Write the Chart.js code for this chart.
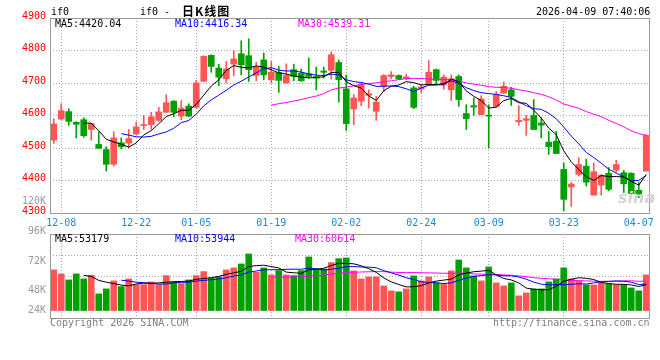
<!DOCTYPE html>
<html>
<head>
<meta charset="utf-8">
<script src="https://cdn.jsdelivr.net/npm/chart.js@4/dist/chart.umd.min.js"></script>
<style>
body { margin: 0; background: #fff; }
#wrap { position: relative; width: 660px; height: 360px; overflow: hidden; font-family: "DejaVu Sans Mono", monospace; font-size: 10px; }
#wrap canvas { position: absolute; left: 0; }
.t { position: absolute; white-space: pre; line-height: 10px; }
.vl { position: absolute; left: 0; width: 46px; text-align: right; color: #999; line-height: 10px; }
</style>
</head>
<body>
<div id="wrap">
  <canvas id="priceChart" width="660" height="230" style="top:0"></canvas>
  <canvas id="volChart" width="660" height="130" style="top:230px"></canvas>

  <div class="t" style="left:51px;top:7px">if0</div>
  <div class="t" style="left:140px;top:7px">if0 -</div>
  <div class="t" style="left:182px;top:5px;font:bold 12px 'Noto Sans CJK SC';line-height:12px;letter-spacing:1px">日K线图</div>
  <div class="t" style="left:536px;top:7px">2026-04-09 07:40:06</div>

  <div class="t" style="left:55px;top:19px;color:#000">MA5:4420.04</div>
  <div class="t" style="left:175px;top:19px;color:#0000ff">MA10:4416.34</div>
  <div class="t" style="left:298px;top:19px;color:#ff00ff">MA30:4539.31</div>

  <div class="t" style="left:55px;top:234px;color:#000">MA5:53179</div>
  <div class="t" style="left:175px;top:234px;color:#0000ff">MA10:53944</div>
  <div class="t" style="left:295px;top:234px;color:#ff00ff">MA30:60614</div>

  <div class="vl" style="top:196px">120K</div>
  <div class="vl" style="top:226px">96K</div>
  <div class="vl" style="top:256px">72K</div>
  <div class="vl" style="top:285px">48K</div>
  <div class="vl" style="top:305px">24K</div>

  <div class="t" style="left:50px;top:318px;color:#808080">Copyright 2026 SINA.COM</div>
  <div class="t" style="left:493px;top:318px;color:#808080">http://finance.sina.com.cn</div>
  <div class="t" style="left:618px;top:190px;color:#d4d4d4;font:italic bold 16px 'DejaVu Sans';line-height:16px">sina</div>
</div>

<script>
/* trading days */
const dates = ("12-05 12-08 12-09 12-10 12-11 12-12 12-15 12-16 12-17 12-18 12-19 12-22 12-23 12-24 12-25 12-26 12-29 12-30 12-31 " +
  "01-05 01-06 01-07 01-08 01-09 01-12 01-13 01-14 01-15 01-16 01-19 01-20 01-21 01-22 01-23 01-26 01-27 01-28 01-29 01-30 " +
  "02-02 02-03 02-04 02-05 02-06 02-09 02-10 02-11 02-12 02-13 02-24 02-25 02-26 02-27 " +
  "03-02 03-03 03-04 03-05 03-06 03-09 03-10 03-11 03-12 03-13 03-16 03-17 03-18 03-19 03-20 " +
  "03-23 03-24 03-25 03-26 03-27 03-30 03-31 04-01 04-02 04-03 04-07 04-08").split(" ");

const tickDates = ["12-08", "12-22", "01-05", "01-19", "02-02", "02-24", "03-09", "03-23", "04-07"];

/* daily OHLC */
const open = [4524, 4589, 4612, 4579, 4587, 4557, 4511, 4495, 4450, 4516,
  4515, 4543, 4569, 4572, 4585, 4610, 4644, 4598, 4629, 4625,
  4705, 4785, 4746, 4713, 4758, 4790, 4784, 4723, 4771, 4710,
  4733, 4700, 4741, 4730, 4728, 4720, 4737, 4739, 4763, 4682,
  4620, 4644, 4662, 4613, 4690, 4720, 4723, 4715, 4685, 4681,
  4697, 4741, 4695, 4679, 4720, 4606, 4630, 4603, 4601, 4628,
  4669, 4679, 4581, 4585, 4600, 4577, 4518, 4521, 4434, 4380,
  4419, 4444, 4355, 4386, 4422, 4432, 4424, 4422, 4370, 4429];
const high = [4590, 4636, 4621, 4581, 4593, 4576, 4550, 4504, 4550, 4531,
  4557, 4580, 4600, 4610, 4625, 4664, 4646, 4646, 4636, 4708,
  4784, 4787, 4758, 4766, 4800, 4830, 4836, 4764, 4792, 4766,
  4751, 4759, 4758, 4743, 4777, 4749, 4749, 4796, 4771, 4725,
  4664, 4700, 4679, 4659, 4726, 4735, 4725, 4727, 4690, 4695,
  4769, 4743, 4725, 4725, 4725, 4633, 4654, 4661, 4633, 4674,
  4703, 4687, 4630, 4600, 4649, 4593, 4551, 4551, 4454, 4394,
  4470, 4465, 4454, 4419, 4440, 4462, 4431, 4424, 4394, 4541];
const low = [4514, 4587, 4570, 4531, 4533, 4524, 4499, 4429, 4444, 4498,
  4500, 4541, 4557, 4557, 4582, 4608, 4596, 4587, 4596, 4623,
  4705, 4733, 4692, 4700, 4723, 4725, 4705, 4707, 4710, 4700,
  4671, 4700, 4707, 4705, 4715, 4679, 4715, 4712, 4641, 4554,
  4572, 4630, 4623, 4585, 4674, 4713, 4710, 4710, 4621, 4671,
  4695, 4695, 4681, 4646, 4628, 4557, 4600, 4603, 4500, 4626,
  4667, 4631, 4570, 4539, 4557, 4531, 4480, 4483, 4306, 4320,
  4414, 4383, 4355, 4355, 4368, 4426, 4363, 4352, 4347, 4429];
const close = [4574, 4615, 4582, 4573, 4538, 4575, 4499, 4450, 4531, 4504,
  4529, 4565, 4572, 4596, 4611, 4639, 4610, 4623, 4598, 4700,
  4782, 4751, 4718, 4743, 4774, 4756, 4741, 4748, 4725, 4733,
  4708, 4723, 4720, 4707, 4720, 4715, 4733, 4787, 4710, 4575,
  4654, 4695, 4667, 4641, 4723, 4725, 4713, 4719, 4625, 4688,
  4733, 4708, 4718, 4713, 4649, 4590, 4626, 4651, 4598, 4664,
  4690, 4659, 4585, 4590, 4557, 4570, 4504, 4483, 4342, 4389,
  4449, 4395, 4427, 4416, 4373, 4449, 4390, 4360, 4357, 4539];

/* daily volume */
const volume = [72800, 68000, 60800, 68000, 62000, 66400, 44000, 50000, 59600, 52800,
  62000, 55200, 55200, 58400, 55200, 66000, 58400, 56400, 60800, 66000,
  70800, 63200, 64400, 72800, 75200, 80000, 92000, 70000, 75200, 66800,
  72000, 66800, 66000, 72000, 88400, 74000, 74000, 81600, 86400, 87200,
  71600, 62000, 64400, 64400, 53600, 47600, 46400, 50000, 65600, 59600,
  64400, 57200, 56000, 71600, 84800, 75200, 65600, 59600, 76400, 57200,
  53600, 57200, 41600, 45200, 50000, 50000, 58400, 62000, 75200, 62000,
  59600, 54800, 54800, 57200, 56000, 54800, 54800, 51200, 47600, 66800];

const priceTicks = [4300, 4400, 4500, 4600, 4700, 4800, 4900];

const RED = "#ff5555";
const GREEN = "#00a000";
const GRID = "#aaaaaa";
const FONT = { family: "DejaVu Sans Mono", size: 10 };

const colors = close.map((c, i) => c >= open[i] ? RED : GREEN);

function ma(src, n) {
  return src.map((v, i) => {
    if (i < n - 1) return null;
    let s = 0;
    for (let k = i - n + 1; k <= i; k++) s += src[k];
    return s / n;
  });
}

function maLine(data, color) {
  return { type: "line", data: data, borderColor: color, borderWidth: 1, pointRadius: 0, tension: 0, order: 0 };
}

/* gridline only where a date is labelled (no line under the last one) */
function xGridColor(ctx) {
  if (!ctx.tick) return "transparent";
  const d = dates[ctx.tick.value];
  return tickDates.includes(d) && d !== "04-07" ? GRID : "transparent";
}

const framePlugin = {
  id: "frame",
  afterDatasetsDraw(chart) {
    const a = chart.chartArea, c = chart.ctx;
    c.save();
    c.strokeStyle = "#999";
    c.lineWidth = 1;
    c.strokeRect(Math.round(a.left) + 0.5, Math.round(a.top) + 0.5,
      Math.round(a.right - a.left) - 1, Math.round(a.bottom - a.top));
    c.restore();
  }
};

/* PRICE */
new Chart(document.getElementById("priceChart"), {
  type: "bar",
  data: {
    labels: dates,
    datasets: [
      maLine(ma(close, 5), "#000000"),
      maLine(ma(close, 10), "#0000ff"),
      maLine(ma(close, 30), "#ff00ff"),
      {
        data: dates.map((d, i) => [open[i], close[i]]),
        backgroundColor: colors, barThickness: 6, minBarLength: 1, grouped: false, order: 1
      },
      {
        data: dates.map((d, i) => [low[i], high[i]]),
        backgroundColor: colors, barThickness: 1, grouped: false, order: 2
      }
    ]
  },
  options: {
    responsive: false,
    animation: false,
    layout: { padding: { top: 18, right: 10, left: 0, bottom: 0 } },
    plugins: { legend: { display: false }, tooltip: { enabled: false } },
    scales: {
      x: {
        offset: true,
        grid: { offset: false, color: xGridColor, drawTicks: false },
        border: { display: false, dash: [1, 2] },
        ticks: {
          autoSkip: false, maxRotation: 0, padding: 4, color: "#1e88d8", font: FONT,
          callback: (v, i) => tickDates.includes(dates[v]) ? dates[v] : null
        },
        afterFit: s => { s.height = 17; }
      },
      y: {
        min: 4300, max: 4900,
        afterBuildTicks: s => { s.ticks = priceTicks.map(v => ({ value: v })); },
        grid: {
          drawTicks: false,
          color: ctx => ctx.tick && (ctx.tick.value === 4300 || ctx.tick.value === 4900) ? "transparent" : GRID
        },
        border: { display: false, dash: [1, 2] },
        ticks: { color: "#ff0000", font: FONT, padding: 4, labelOffset: -2, callback: v => String(v) },
        afterFit: s => { s.width = 50; }
      }
    }
  },
  plugins: [framePlugin]
});

/* VOLUME */
new Chart(document.getElementById("volChart"), {
  type: "bar",
  data: {
    labels: dates,
    datasets: [
      maLine(ma(volume, 5), "#000000"),
      maLine(ma(volume, 10), "#0000ff"),
      maLine(ma(volume, 30), "#ff00ff"),
      {
        data: volume, base: 24000,
        backgroundColor: colors, barThickness: 6, grouped: false, order: 1
      }
    ]
  },
  options: {
    responsive: false,
    animation: false,
    layout: { padding: { top: 4, right: 10, left: 0, bottom: 0 } },
    plugins: { legend: { display: false }, tooltip: { enabled: false } },
    scales: {
      x: {
        offset: true,
        grid: { offset: false, color: xGridColor, drawTicks: false },
        border: { display: false, dash: [1, 2] },
        ticks: {
          display: false, autoSkip: false,
          callback: (v, i) => tickDates.includes(dates[v]) ? dates[v] : null
        },
        afterFit: s => { s.height = 42; }
      },
      y: {
        min: 15000, max: 116000,
        /* panel split into quarters */
        afterBuildTicks: s => { s.ticks = [1, 2, 3].map(k => ({ value: s.min + (s.max - s.min) * k / 4 })); },
        grid: { drawTicks: false, color: GRID },
        border: { display: false, dash: [1, 2] },
        ticks: { display: false },
        afterFit: s => { s.width = 50; }
      }
    }
  },
  plugins: [framePlugin]
});
</script>
</body>
</html>
